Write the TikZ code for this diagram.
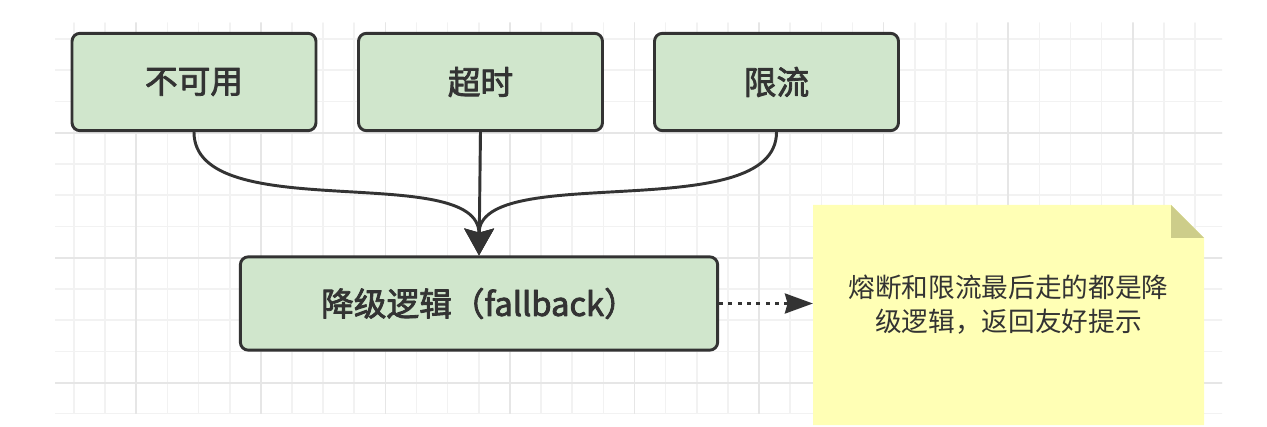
\documentclass[tikz,border=0pt]{standalone}
\usepackage{fontspec}
\setmainfont{Noto Sans CJK SC}
\newfontfamily\boxfont[FakeBold=2.5]{Noto Sans CJK SC}
\usetikzlibrary{arrows.meta,calc,positioning}
\definecolor{GridLight}{HTML}{F2F2F2}
\definecolor{GridDark}{HTML}{E6E6E6}
\definecolor{BoxGreen}{HTML}{D0E6CC}
\definecolor{Ink}{HTML}{333333}
\definecolor{NoteYellow}{HTML}{FFFFB5}
\definecolor{NoteFold}{HTML}{CDCD8A}

\begin{document}
\begin{tikzpicture}[x=0.75pt,y=-0.75pt,line cap=round,line join=round,
    casebox/.style={draw=Ink,fill=BoxGreen,line width=2.2pt,rounded corners=6pt,
      minimum width=183pt,minimum height=73pt,text=Ink,
      font=\boxfont\fontsize{24.5}{28}\selectfont},
    flow/.style={Ink,line width=2.2pt,-{Stealth[length=20pt,width=22pt,inset=3pt]}},
    notetext/.style={text=Ink,align=center,inner sep=0pt,
      font=\fontsize{20}{25.5}\selectfont}]
  \useasboundingbox (0,0) rectangle (1267,427);
  \begin{scope}
    \clip (55,23) rectangle (1222,414);
    \foreach \k in {0,...,36}
      \draw[GridLight,line width=1.2pt] ({74+31.14*\k},23) -- ({74+31.14*\k},414);
    \foreach \k in {0,...,12}
      \draw[GridLight,line width=1.2pt] (55,{39+31.25*\k}) -- (1222,{39+31.25*\k});
    \foreach \k in {2,6,...,34}
      \draw[GridDark,line width=1.2pt] ({74+31.14*\k},23) -- ({74+31.14*\k},414);
    \foreach \k in {3,7,11}
      \draw[GridDark,line width=1.2pt] (55,{39+31.25*\k}) -- (1222,{39+31.25*\k});
  \end{scope}

  \node[casebox] (unavail) at (194,82) {不可用};
  \node[casebox] (timeout) at (480.5,82) {超时};
  \node[casebox] (limit) at (776.5,82) {限流};
  \node[casebox,minimum width=358pt,minimum height=70pt] (fallback) at (479,303.5)
    {降级逻辑（fallback）};

  \fill[NoteYellow] (813,205) -- (1171,205) -- (1204,238) -- (1204,425) -- (813,425) -- cycle;
  \fill[NoteFold] (1171,205) -- (1204,238) -- (1171,238) -- cycle;
  \node[notetext,minimum width=293pt] (note) at (1008.5,305)
    {熔断和限流最后走的都是降\\级逻辑，返回友好提示};

  \draw[flow] (unavail.south) .. controls +(0,95) and +(0,-95) .. (fallback.north);
  \draw[flow] (limit.south) .. controls +(0,95) and +(0,-95) .. (fallback.north);
  \draw[flow] (timeout.south) -- (fallback.north);
  \draw[Ink,line width=2.2pt,line cap=butt,dash pattern=on 3pt off 4pt,
    -{Stealth[length=21pt,width=15pt,inset=2pt]}]
    (fallback.east) -- (fallback.east -| note.west);
\end{tikzpicture}
\end{document}
